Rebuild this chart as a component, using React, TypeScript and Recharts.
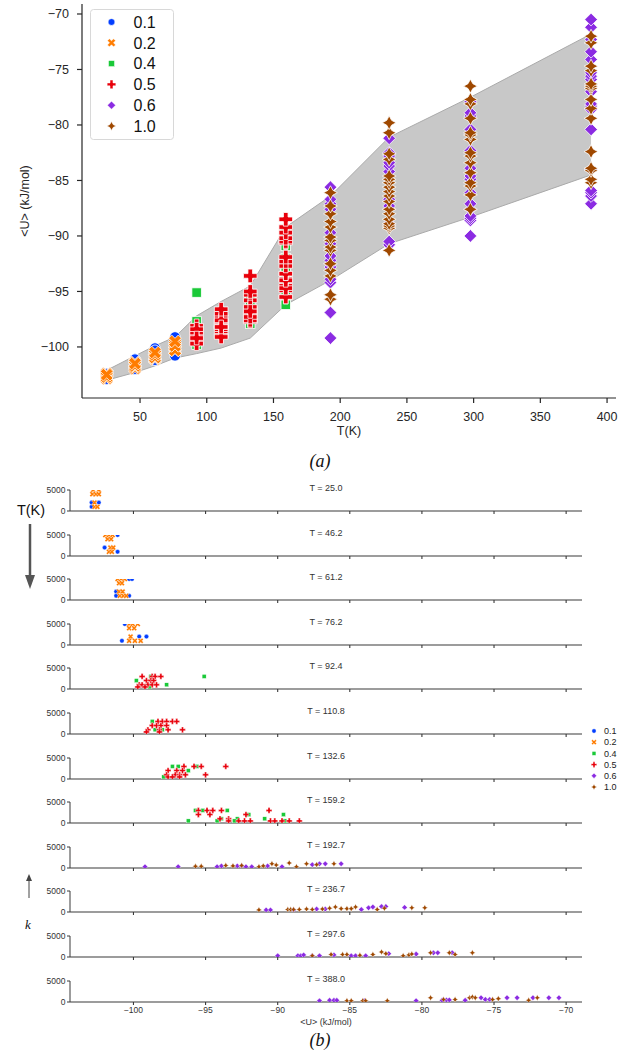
import React from 'react';
import { ComposedChart, ScatterChart, Scatter, Area, XAxis, YAxis, Legend, Label } from 'recharts';

const temps = [25.0, 46.2, 61.2, 76.2, 92.4, 110.8, 132.6, 159.2, 192.7, 236.7, 297.6, 388.0];
const concs = ['0.1', '0.2', '0.4', '0.5', '0.6', '1.0'];
const colors = ['#023eff', '#ff7c00', '#1ac938', '#e8000b', '#8b2be2', '#9f4800'];
const kinds = ['o', 'X', 's', 'P', 'D', 'star'];

const tTicks = [50, 100, 150, 200, 250, 300, 350, 400];
const uTicks = [-100, -95, -90, -85, -80, -75, -70];

// envelope of the shaded band
const bandLow = [-103.0, -102.3, -101.7, -101.0, -100.6, -100.1, -99.2, -96.2, -94.0, -90.7, -88.3, -84.5];
const bandHigh = [-102.1, -100.8, -99.9, -99.1, -97.2, -95.9, -94.5, -89.2, -86.4, -81.1, -77.5, -71.8];

// [<U>, k] per concentration, one table per temperature
const p25 = {
  '0.1': [[-102.9, 2000], [-102.4, 2000], [-102.9, 1000]],
  '0.2': [[-102.8, 5000], [-102.4, 5000], [-102.85, 4000], [-102.6, 4000], [-102.4, 4000], [-102.7, 2000], [-102.7, 1000], [-102.5, 1000]],
};
const p46 = {
  '0.1': [[-101.1, 5000], [-102.0, 2000], [-101.1, 1000]],
  '0.2': [[-101.95, 5000], [-101.7, 5000], [-101.45, 5000], [-101.8, 4000], [-101.55, 4000], [-101.6, 2000], [-101.4, 2000], [-101.7, 1000], [-101.5, 1000]],
};
const p61 = {
  '0.1': [[-100.3, 5000], [-100.1, 5000], [-101.2, 2000], [-101.2, 1000], [-100.3, 1000]],
  '0.2': [[-101.1, 5000], [-100.85, 5000], [-100.6, 5000], [-101.0, 4000], [-100.8, 4000], [-101.0, 2000], [-100.75, 2000], [-100.95, 1000], [-100.7, 1000], [-100.5, 1000]],
};
const p76 = {
  '0.1': [[-100.6, 5000], [-99.6, 2000], [-99.1, 2000], [-100.8, 1000]],
  '0.2': [[-100.3, 5000], [-100.05, 5000], [-99.7, 5000], [-100.3, 4000], [-99.95, 4000], [-100.2, 2000], [-100.3, 1000], [-99.9, 1000], [-99.5, 1000]],
};
const p92 = {
  '0.4': [[-95.1, 3000], [-98.8, 3000], [-99.8, 2000], [-97.7, 1000], [-98.9, 500]],
  '0.5': [[-99.4, 3000], [-98.7, 3000], [-98.5, 3000], [-98.1, 3000], [-99.1, 2000], [-98.8, 2000], [-98.6, 2000], [-99.6, 1000], [-99.4, 1000], [-99.0, 1000], [-98.7, 1000], [-98.4, 1000], [-99.7, 500], [-99.2, 500]],
};
const p110 = {
  '0.4': [[-98.7, 3000], [-98.5, 1000], [-98.0, 1000]],
  '0.5': [[-98.3, 3000], [-98.0, 3000], [-97.7, 3000], [-97.3, 3000], [-97.0, 3000], [-98.7, 2000], [-98.4, 2000], [-98.1, 2000], [-97.7, 2000], [-99.0, 1000], [-98.2, 1000], [-97.6, 1000], [-96.6, 1000], [-99.1, 500], [-98.2, 500]],
};
const p132 = {
  '0.4': [[-97.3, 3000], [-96.9, 3000], [-95.6, 3000], [-96.2, 2000], [-97.9, 500]],
  '0.5': [[-96.5, 3000], [-95.8, 3000], [-95.3, 3000], [-93.6, 3000], [-97.6, 2000], [-97.0, 2000], [-96.6, 2000], [-97.7, 1000], [-97.1, 1000], [-96.8, 1000], [-96.4, 1000], [-95.0, 1000], [-97.6, 500], [-97.3, 500], [-96.8, 500]],
};
const p159 = {
  '0.4': [[-95.7, 3000], [-95.2, 3000], [-93.5, 3000], [-92.0, 2000], [-89.6, 2000], [-93.9, 1000], [-92.8, 1000], [-90.9, 1000], [-96.2, 500], [-94.2, 500], [-93.0, 500], [-89.5, 500]],
  '0.5': [[-95.5, 3000], [-94.9, 3000], [-94.5, 3000], [-93.9, 3000], [-90.6, 3000], [-95.5, 2000], [-94.7, 2000], [-92.2, 2000], [-94.0, 1000], [-93.4, 1000], [-93.4, 500], [-92.7, 500], [-92.3, 500], [-91.9, 500], [-90.5, 500], [-90.2, 500], [-89.7, 500], [-89.2, 500], [-88.5, 500]],
};
const p192 = {
  '0.6': [[-99.2, 300], [-96.9, 300], [-94.2, 300], [-93.9, 500], [-92.8, 500], [-92.5, 500], [-92.2, 300], [-91.8, 300], [-90.7, 500], [-89.7, 300], [-87.6, 800], [-87.1, 1000], [-86.7, 1000], [-85.6, 1000]],
  '1.0': [[-95.7, 400], [-95.3, 400], [-93.6, 600], [-93.1, 500], [-92.5, 600], [-91.3, 300], [-91.0, 500], [-90.4, 1000], [-90.1, 700], [-89.2, 1200], [-88.7, 300], [-88.0, 1000], [-87.3, 800], [-86.1, 1000]],
};
const p236 = {
  '0.6': [[-90.8, 500], [-90.5, 500], [-88.9, 500], [-87.3, 700], [-86.7, 700], [-84.2, 600], [-83.7, 1000], [-83.4, 1200], [-82.8, 1300], [-82.5, 1300], [-81.2, 1100]],
  '1.0': [[-91.3, 500], [-89.3, 600], [-89.1, 600], [-88.9, 600], [-88.5, 600], [-88.0, 700], [-87.6, 600], [-86.9, 700], [-86.4, 900], [-86.0, 1200], [-85.6, 800], [-85.2, 800], [-84.9, 800], [-84.6, 1200], [-83.1, 600], [-82.6, 900], [-80.7, 1000], [-79.8, 1000]],
};
const p297 = {
  '0.6': [[-90.0, 300], [-88.6, 300], [-88.4, 300], [-88.2, 500], [-87.6, 300], [-87.1, 300], [-86.1, 500], [-84.9, 300], [-84.6, 300], [-83.9, 300], [-82.3, 800], [-80.4, 700], [-79.2, 1000], [-78.9, 1000], [-77.9, 1000]],
  '1.0': [[-87.6, 300], [-86.3, 600], [-85.5, 600], [-85.2, 600], [-84.3, 400], [-83.4, 600], [-82.8, 1200], [-82.5, 800], [-81.3, 300], [-80.9, 500], [-80.7, 700], [-79.4, 1000], [-78.1, 1000], [-77.7, 600], [-76.5, 1000]],
};
const p388 = {
  '0.6': [[-87.1, 300], [-86.4, 400], [-86.1, 400], [-85.9, 400], [-84.0, 300], [-80.4, 300], [-78.6, 400], [-78.3, 500], [-78.1, 500], [-77.0, 400], [-75.9, 1000], [-75.6, 600], [-75.3, 600], [-74.1, 1000], [-73.4, 1000], [-72.3, 1000], [-71.2, 1000], [-70.5, 1000]],
  '1.0': [[-85.2, 300], [-84.9, 300], [-84.1, 300], [-83.9, 300], [-82.4, 300], [-79.4, 1000], [-78.5, 600], [-77.7, 600], [-76.7, 1000], [-76.5, 1200], [-76.3, 1000], [-75.1, 600], [-74.7, 800], [-72.6, 400], [-72.0, 1000]],
};
const runs: Record<string, number[][]>[] = [p25, p46, p61, p76, p92, p110, p132, p159, p192, p236, p297, p388];

const font = '"Liberation Sans", Arial, sans-serif';
const ink = '#262626';
const minus = (v: number) => String(v).replace('-', '\u2212');

function pts(list: number[][], cx: number, cy: number) {
  return list.map(([x, y]) => `${(cx + x).toFixed(2)},${(cy + y).toFixed(2)}`).join(' ');
}
function cross(L: number, a: number) {
  return [[-a, -L], [a, -L], [a, -a], [L, -a], [L, a], [a, a], [a, L], [-a, L], [-a, a], [-L, a], [-L, -a], [-a, -a]];
}

function Marker({ kind, cx, cy, scale, fill, sw }: any) {
  const st = { fill, stroke: '#fff', strokeWidth: sw };
  if (kind === 'o') return <circle cx={cx} cy={cy} r={4.8 * scale} {...st} />;
  if (kind === 's') {
    const h = 4.3 * scale;
    return <rect x={cx - h} y={cy - h} width={2 * h} height={2 * h} {...st} />;
  }
  if (kind === 'X') {
    const r = cross(6.2 * scale, 2 * scale).map(([x, y]) => [(x - y) / Math.SQRT2, (x + y) / Math.SQRT2]);
    return <polygon points={pts(r, cx, cy)} {...st} />;
  }
  if (kind === 'P') return <polygon points={pts(cross(6.2 * scale, 2.1 * scale), cx, cy)} {...st} />;
  if (kind === 'D') {
    const L = 5.8 * scale;
    return <polygon points={pts([[0, -L], [L, 0], [0, L], [-L, 0]], cx, cy)} {...st} />;
  }
  const L = 6.3 * scale;
  const i = L * 0.35;
  return <polygon points={pts([[0, -L], [i, -i], [L, 0], [i, i], [0, L], [-i, i], [-L, 0], [-i, -i]], cx, cy)} {...st} />;
}

const band = temps.map((T, i) => ({ T, range: [bandLow[i], bandHigh[i]] }));

function topSeries(c: string) {
  return temps.flatMap((T, i) => (runs[i][c] || []).map(([U]) => ({ T, U })));
}

function TopLegend() {
  return (
    <svg width={84} height={131} style={{ display: 'block' }}>
      <rect x={0.5} y={0.5} width={83} height={130} rx={3} fill="#fff" fillOpacity={0.85} stroke="#d8d8d8" />
      {concs.map((c, j) => (
        <g key={c}>
          <Marker kind={kinds[j]} cx={21.5} cy={13 + j * 20.8} scale={0.7} fill={colors[j]} sw={0.5} />
          <text x={43.5} y={13 + j * 20.8} dy="0.36em" fontSize={16} fill="#111" fontFamily={font}>{c}</text>
        </g>
      ))}
    </svg>
  );
}

function SmallLegend() {
  return (
    <svg width={50} height={72} style={{ display: 'block' }}>
      {concs.map((c, j) => (
        <g key={c}>
          <Marker kind={kinds[j]} cx={8} cy={6 + j * 11.2} scale={0.45} fill={colors[j]} sw={0.4} />
          <text x={18} y={6 + j * 11.2} dy="0.36em" fontSize={9} fill="#222" fontFamily={font}>{c}</text>
        </g>
      ))}
    </svg>
  );
}

function TopChart() {
  return (
    <ComposedChart width={640} height={450} data={band} margin={{ top: 4, right: 24, bottom: 7, left: 0 }}>
      <XAxis dataKey="T" type="number" domain={[6.5, 406.7]} allowDataOverflow ticks={tTicks} height={45}
        tickSize={5} tickMargin={9} stroke={ink} strokeWidth={1.2} tick={{ fill: ink, fontSize: 12.5 }}>
        <Label value="T(K)" position="insideBottom" offset={8} fill={ink} fontSize={12.5} />
      </XAxis>
      <XAxis xAxisId="top" orientation="top" type="number" domain={[6.5, 406.7]} allowDataOverflow height={0}
        tick={false} tickLine={false} stroke={ink} strokeWidth={1.2} />
      <YAxis dataKey="U" type="number" domain={[-104.6, -69.1]} allowDataOverflow ticks={uTicks} width={82}
        tickSize={5} tickMargin={8} stroke={ink} strokeWidth={1.2} tick={{ fill: ink, fontSize: 12.5 }} tickFormatter={minus}>
        <Label content={() => (
          <text x={25} y={201} transform="rotate(-90 25 201)" textAnchor="middle" dominantBaseline="central"
            fontSize={12.5} fill={ink} fontFamily={font}>{'<U> (kJ/mol)'}</text>
        )} />
      </YAxis>
      <YAxis yAxisId="right" orientation="right" type="number" domain={[-104.6, -69.1]} allowDataOverflow width={0}
        tick={false} tickLine={false} stroke={ink} strokeWidth={1.2} />
      <Area type="linear" dataKey="range" fill="#c8c8c8" fillOpacity={1} stroke="#aaaaaa" strokeWidth={1} isAnimationActive={false} />
      {concs.map((c, j) => (
        <Scatter key={c} data={topSeries(c)} isAnimationActive={false}
          shape={(p: any) => <Marker kind={kinds[j]} cx={p.cx} cy={p.cy} scale={1.1} fill={colors[j]} sw={0.8} />} />
      ))}
      <Legend content={<TopLegend />} layout="vertical" align="center" verticalAlign="middle"
        wrapperStyle={{ top: 9, left: 90, width: 84, height: 131 }} />
    </ComposedChart>
  );
}

function Panel({ i }: { i: number }) {
  const last = i === temps.length - 1;
  const base = 511 + i * 44.6;
  const axisH = last ? 32 : 8;
  const run = runs[i];
  return (
    <div style={{ position: 'absolute', left: 0, top: base - 45 }}>
      <ScatterChart width={640} height={45 + axisH} margin={{ top: 24, right: 58, bottom: 0, left: 0 }}>
        <XAxis dataKey="U" type="number" domain={[-104.4, -68.9]} allowDataOverflow ticks={uTicks} height={axisH}
          tickSize={3} tickMargin={2} stroke="#3a3a3a" strokeWidth={1.1} tick={{ fill: '#333', fontSize: 8.5 }}
          tickFormatter={last ? minus : () => ''}>
          {last && <Label value="<U> (kJ/mol)" position="insideBottom" offset={9} fill="#333" fontSize={9} />}
        </XAxis>
        <YAxis dataKey="k" type="number" domain={[0, 5000]} allowDataOverflow ticks={[0, 5000]} width={70}
          tickSize={3} tickMargin={1.5} stroke="#3a3a3a" tick={{ fill: '#333', fontSize: 8.5 }}>
          <Label content={() => (
            <text x={326} y={24.5} textAnchor="middle" fontSize={9} fill="#333" fontFamily={font}>{`T = ${temps[i].toFixed(1)}`}</text>
          )} />
        </YAxis>
        {concs.map((c, j) => run[c] ? (
          <Scatter key={c} data={run[c].map(([U, k]) => ({ U, k }))} isAnimationActive={false}
            shape={(p: any) => <Marker kind={kinds[j]} cx={p.cx} cy={p.cy} scale={0.47} fill={colors[j]} sw={0.4} />} />
        ) : null)}
        {i === 5 && (
          <Legend content={<SmallLegend />} layout="vertical" align="center" verticalAlign="middle"
            wrapperStyle={{ top: 36, left: 586, width: 50, height: 72 }} />
        )}
      </ScatterChart>
    </div>
  );
}

export default function App() {
  return (
    <div style={{ position: 'absolute', left: 0, top: 0, width: 640, height: 1055, background: '#fff', fontFamily: font }}>
      <svg width={640} height={1055} style={{ position: 'absolute', left: 0, top: 0 }}>
        <text x={320} y={467} textAnchor="middle" fontSize={18} fontStyle="italic" fontFamily='"Liberation Serif", serif' fill="#111">(a)</text>
        <text x={320} y={1046} textAnchor="middle" fontSize={18} fontStyle="italic" fontFamily='"Liberation Serif", serif' fill="#111">(b)</text>
        <text x={31} y={515} textAnchor="middle" fontSize={14.5} fill="#111" fontFamily={font}>T(K)</text>
        <line x1={30} y1={524} x2={30} y2={576} stroke="#555" strokeWidth={2.5} />
        <polygon points="25,575 35,575 30,589" fill="#555" />
        <line x1={29} y1={898} x2={29} y2={880} stroke="#444" strokeWidth={1} />
        <polygon points="26,881 32,881 29,874" fill="#444" />
        <text x={28} y={929} textAnchor="middle" fontSize={13} fontStyle="italic" fill="#111" fontFamily='"Liberation Serif", serif'>k</text>
      </svg>
      <div style={{ position: 'absolute', left: 0, top: 0 }}>
        <TopChart />
      </div>
      {temps.map((T, i) => <Panel key={T} i={i} />)}
    </div>
  );
}
